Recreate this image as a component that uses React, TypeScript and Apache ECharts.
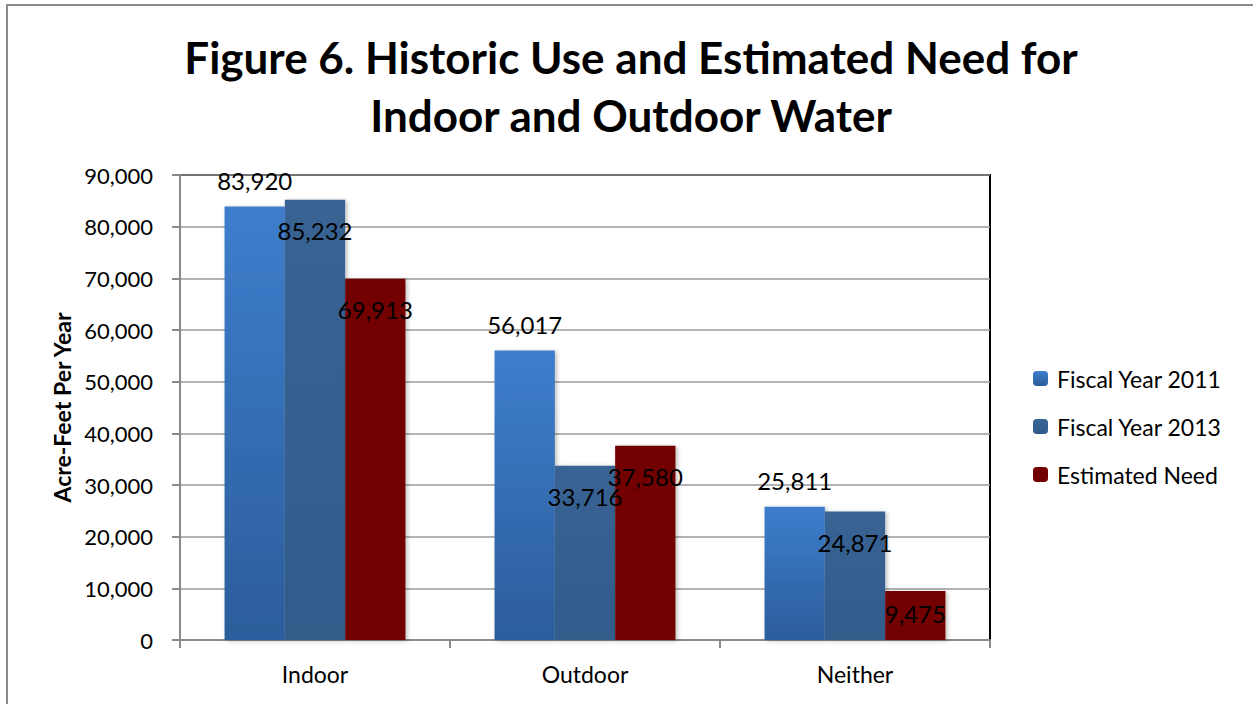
import React, { useEffect, useRef } from "react";
import * as echarts from "echarts";

const categories = ["Indoor", "Outdoor", "Neither"];
const fy2011 = [83920, 56017, 25811];
const fy2013 = [85232, 33716, 24871];
const estimated = [69913, 37580, 9475];
const seriesNames = ["Fiscal Year 2011", "Fiscal Year 2013", "Estimated Need"];

const FONT = "Lato";

export default function App() {
  const ref = useRef<HTMLDivElement>(null);
  useEffect(() => {
    if (!ref.current) return;
    const chart = echarts.init(ref.current, null, { renderer: "svg" });
    const fmt = (v: number) => v.toLocaleString("en-US");
    const labelBase = {
      show: true,
      fontFamily: FONT,
      fontSize: 24,
      color: "#000",
      formatter: (p: any) => fmt(p.value),
    };
    const shadow = {
      shadowBlur: 4,
      shadowColor: "rgba(0,0,0,0.25)",
      shadowOffsetX: 2,
      shadowOffsetY: 1,
    };
    chart.setOption({
      animation: false,
      backgroundColor: "#fff",
      title: {
        text: "Figure 6. Historic Use and Estimated Need for\nIndoor and Outdoor Water",
        left: 631,
        top: 28,
        padding: 0,
        textAlign: "center",
        textStyle: {
          fontFamily: FONT,
          fontWeight: "bold",
          fontSize: 44,
          lineHeight: 58,
          color: "#000",
        },
      },
      graphic: [
        {
          type: "rect",
          shape: { x: 7, y: 5, width: 1300, height: 800 },
          style: { fill: "none", stroke: "#8a8a8a", lineWidth: 2 },
          silent: true,
        },
      ],
      legend: {
        orient: "vertical",
        left: 1033,
        top: 367,
        padding: 0,
        itemWidth: 15,
        itemHeight: 15,
        itemGap: 25,
        textStyle: { fontFamily: FONT, fontSize: 23, color: "#000", lineHeight: 23, padding: [0, 0, 0, 4] },
        data: seriesNames,
      },
      grid: {
        left: 180,
        right: 263,
        top: 175,
        bottom: 64,
        show: true,
        borderColor: "#000",
        borderWidth: 2,
      },
      xAxis: {
        type: "category",
        data: categories,
        axisLine: { lineStyle: { color: "#8a8a8a", width: 2 } },
        axisTick: { show: true, length: 8, lineStyle: { color: "#8a8a8a", width: 2 } },
        axisLabel: { fontFamily: FONT, fontSize: 23, color: "#000", margin: 22 },
      },
      yAxis: {
        type: "value",
        min: 0,
        max: 90000,
        interval: 10000,
        name: "Acre-Feet Per Year",
        nameLocation: "middle",
        nameGap: 107,
        nameTextStyle: { fontFamily: FONT, fontWeight: "bold", fontSize: 23, color: "#000" },
        axisLine: { show: true, lineStyle: { color: "#8a8a8a", width: 2 } },
        axisTick: { show: true, length: 8, lineStyle: { color: "#8a8a8a", width: 2 } },
        axisLabel: {
          fontFamily: FONT,
          fontSize: 22,
          color: "#000",
          margin: 27,
          formatter: (v: number) => fmt(v),
        },
        splitLine: { lineStyle: { color: "#9a9a9a", width: 1.5 } },
      },
      series: [
        {
          name: seriesNames[0],
          type: "bar",
          data: fy2011,
          barGap: "0%",
          barCategoryGap: "33%",
          itemStyle: {
            color: new echarts.graphic.LinearGradient(0, 0, 0, 1, [
              { offset: 0, color: "#3d7ecd" },
              { offset: 1, color: "#2c5d9b" },
            ]),
            ...shadow,
          },
          label: { ...labelBase, position: "top", distance: 14 },
        },
        {
          name: seriesNames[1],
          type: "bar",
          data: fy2013,
          itemStyle: {
            color: new echarts.graphic.LinearGradient(0, 0, 0, 1, [
              { offset: 0, color: "#386393" },
              { offset: 1, color: "#315b8a" },
            ]),
            ...shadow,
          },
          label: { ...labelBase, position: "insideTop", distance: 19 },
        },
        {
          name: seriesNames[2],
          type: "bar",
          data: estimated.map((v, i) =>
            i === 2 ? { value: v, label: { distance: 10 } } : v
          ),
          itemStyle: { color: "#720000", ...shadow },
          label: { ...labelBase, position: "insideTop", distance: 19 },
        },
      ],
    });
    return () => chart.dispose();
  }, []);
  return (
    <div
      ref={ref}
      style={{ position: "absolute", left: 0, top: 0, width: 1253, height: 704 }}
    />
  );
}
